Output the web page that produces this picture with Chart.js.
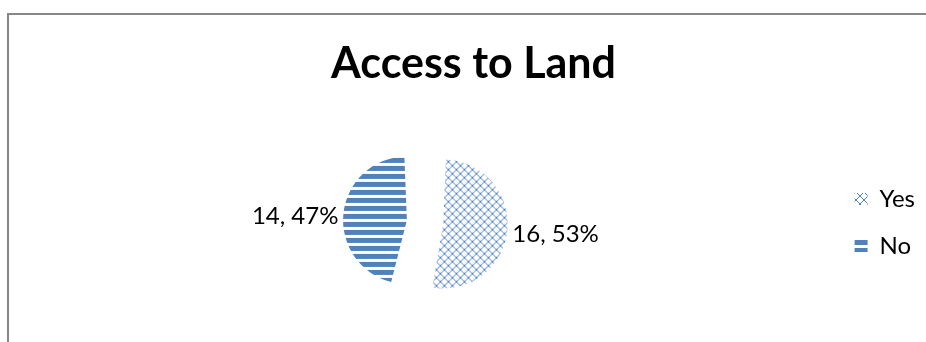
<!DOCTYPE html>
<html>
<head>
<meta charset="utf-8">
<script src="https://cdn.jsdelivr.net/npm/chart.js"></script>
<style>
  html, body { margin: 0; padding: 0; background: #fff; }
</style>
</head>
<body>
<canvas id="chart" width="926" height="342"></canvas>
<script>
// data
const categories = ['Yes', 'No'];
const counts = [16, 14];
const title = 'Access to Land';

const blue = '#4F81BD';

// Yes: diagonal cross-hatch
function crossHatch() {
  const c = document.createElement('canvas');
  c.width = 8; c.height = 8;
  const g = c.getContext('2d');
  g.fillStyle = '#fff';
  g.fillRect(0, 0, 8, 8);
  g.fillStyle = blue;
  for (let i = 0; i < 8; i++) {
    g.fillRect(i, i, 1, 1);
    g.fillRect(7 - i, i, 1, 1);
  }
  // heavier knots where the lines cross
  g.fillRect(3, 3, 2, 2);
  g.fillRect(0, 0, 1, 1);
  g.fillRect(7, 7, 1, 1);
  g.fillRect(0, 7, 1, 1);
  g.fillRect(7, 0, 1, 1);
  return g.createPattern(c, 'repeat');
}

// No: horizontal stripes
function stripes() {
  const c = document.createElement('canvas');
  c.width = 8; c.height = 8;
  const g = c.getContext('2d');
  g.fillStyle = '#fff';
  g.fillRect(0, 0, 8, 8);
  g.fillStyle = blue;
  g.fillRect(0, 0, 8, 5);
  return g.createPattern(c, 'repeat');
}

const total = counts.reduce((a, b) => a + b, 0);

// grey frame: top and left edges only
const frame = {
  id: 'frame',
  beforeDraw(chart) {
    const ctx = chart.ctx;
    ctx.save();
    ctx.fillStyle = '#878787';
    ctx.fillRect(7, 13, chart.width - 7, 2);
    ctx.fillRect(7, 13, 2, chart.height - 13);
    ctx.restore();
  }
};

// "value, percent" labels just outside each slice
const sliceLabels = {
  id: 'sliceLabels',
  afterDatasetsDraw(chart) {
    const ctx = chart.ctx;
    const meta = chart.getDatasetMeta(0);
    ctx.save();
    ctx.font = '24px Lato';
    ctx.fillStyle = '#000';
    ctx.textBaseline = 'middle';
    meta.data.forEach((arc, i) => {
      const p = arc.getProps(['x', 'y', 'startAngle', 'endAngle', 'outerRadius', 'circumference'], true);
      const mid = (p.startAngle + p.endAngle) / 2;
      const off = (arc.options.offset || 0) / 4;
      const fix = 1 - Math.sin(Math.min(Math.PI, p.circumference));
      const cx = p.x + Math.cos(mid) * off;
      const cy = p.y + Math.sin(mid) * off;
      const r = p.outerRadius + off * fix + 5;
      const pct = Math.round(counts[i] / total * 100);
      ctx.textAlign = Math.cos(mid) >= 0 ? 'left' : 'right';
      ctx.fillText(counts[i] + ', ' + pct + '%', cx + Math.cos(mid) * r, cy + Math.sin(mid) * r + 3);
    });
    ctx.restore();
  }
};

new Chart(document.getElementById('chart'), {
  type: 'pie',
  data: {
    labels: categories,
    datasets: [{
      data: counts,
      backgroundColor: [crossHatch(), stripes()],
      borderWidth: 0,
      offset: [66, 80],
      radius: 48
    }]
  },
  options: {
    responsive: false,
    animation: false,
    events: [],
    layout: { padding: { left: 22, right: 1, top: 0, bottom: 0 } },
    plugins: {
      title: {
        display: true,
        text: title,
        color: '#000',
        font: { family: 'Lato', size: 43, weight: 'bold' },
        padding: { top: 38, bottom: 13 }
      },
      legend: {
        position: 'right',
        align: 'start',
        title: { display: true, text: '', font: { size: 10 }, padding: { top: 152, bottom: 0 } },
        labels: {
          color: '#000',
          font: { family: 'Lato', size: 24 },
          boxWidth: 13,
          boxHeight: 12,
          padding: 23
        }
      },
      tooltip: { enabled: false }
    }
  },
  plugins: [frame, sliceLabels]
});
</script>
</body>
</html>
